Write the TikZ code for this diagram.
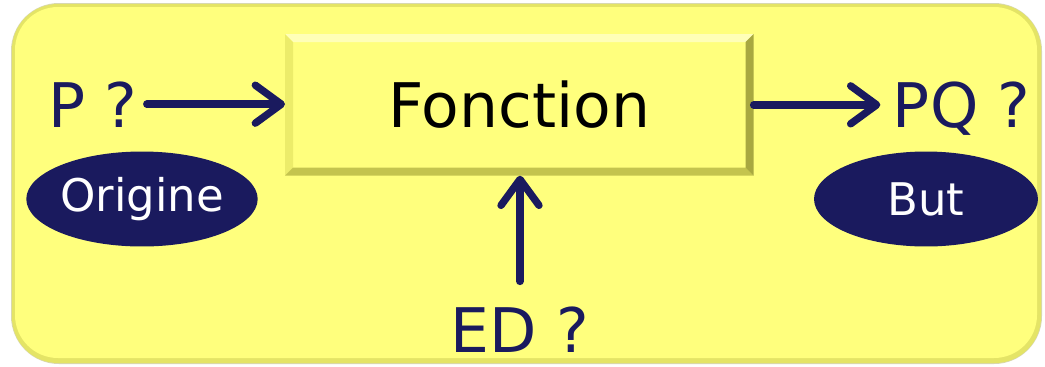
\documentclass[tikz,border=0pt]{standalone}
\usepackage{fontspec}
\setmainfont{DejaVu Sans}
\usetikzlibrary{arrows.meta,calc,shapes.geometric}
\definecolor{navy}{HTML}{1A1A5E}
\definecolor{yel}{HTML}{FFFF7D}
\definecolor{yelhi}{HTML}{FFFFB8}
\definecolor{yelmid}{HTML}{ECEC6A}
\definecolor{yeldk}{HTML}{C4C44E}
\definecolor{yeldk2}{HTML}{A8A840}
\definecolor{rimc}{HTML}{E4E466}
\definecolor{rimo}{HTML}{D8D8B0}
\tikzset{
  big/.style={font=\fontsize{35}{40}\selectfont, inner sep=0pt},
  lbl/.style={big, text=navy},
  tag/.style={ellipse, fill=navy, text=white, minimum width=4.48cm, minimum height=1.9cm, inner sep=0pt, font=\fontsize{25.6}{30}\selectfont},
  arr/.style={draw=navy, line width=4.2pt, line cap=round, -{Straight Barb[length=0.52cm, width=0.76cm, round]}},
}
\begin{document}
\begin{tikzpicture}[x=0.02cm, y=-0.02cm]
\useasboundingbox (0,0) rectangle (1045,366);
% outer rounded panel
\fill[rimo, rounded corners=0.96cm] (11,3) rectangle (1042,364);
\fill[rimc, rounded corners=0.92cm] (12,4) rectangle (1041,363);
\fill[yel, rounded corners=0.86cm] (15,7) rectangle (1037,358);
% function box with bevel
\node[fill=yel, minimum width=9.36cm, minimum height=2.82cm, inner sep=0pt, anchor=north west] (fn) at (285,34) {};
\fill[yelhi] (fn.north west) -- (fn.north east) -- ($(fn.north east)+(-8,8)$) -- ($(fn.north west)+(8,8)$) -- cycle;
\fill[yelmid] (fn.north west) -- ($(fn.north west)+(8,8)$) -- ($(fn.south west)+(8,-8)$) -- (fn.south west) -- cycle;
\fill[yeldk] (fn.south west) -- ($(fn.south west)+(8,-8)$) -- ($(fn.south east)+(-8,-8)$) -- (fn.south east) -- cycle;
\fill[yeldk2] (fn.north east) -- ($(fn.north east)+(-8,8)$) -- ($(fn.south east)+(-8,-8)$) -- (fn.south east) -- cycle;
\node[big, text=black] (fntext) at (fn.center) {Fonction};
% labels
\node[lbl, anchor=base west] (p) at (48,127) {P ?};
\node[lbl, anchor=base east] (pq) at (1031,127) {PQ ?};
\node[lbl, anchor=base] (ed) at (520,352) {ED ?};
% tags
\node[tag] (orig) at (142,199) {Origine};
\node[tag] (but) at (926,199) {But};
% arrows
\draw[arr, shorten <=5pt] (p.east) -- (p.east -| fn.west);
\draw[arr, shorten >=7pt] (fn.east) -- (fn.east -| pq.west);
\draw[arr, shorten <=14pt] (ed.north) -- (ed.north |- fn.south);
\end{tikzpicture}
\end{document}
